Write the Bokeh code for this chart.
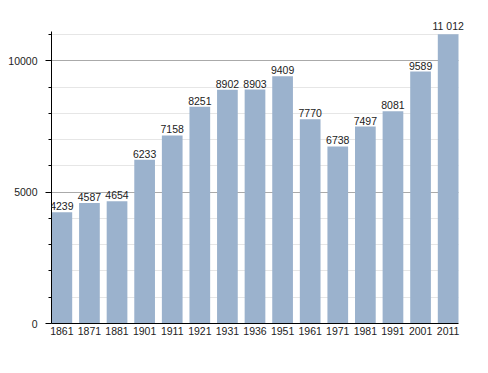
from bokeh.plotting import figure
from bokeh.models import ColumnDataSource, FixedTicker, Range1d, LabelSet
from bokeh.core.properties import value
from bokeh.embed import file_html
from bokeh.resources import INLINE

years = ["1861", "1871", "1881", "1901", "1911", "1921", "1931", "1936",
         "1951", "1961", "1971", "1981", "1991", "2001", "2011"]
population = [4239, 4587, 4654, 6233, 7158, 8251, 8902, 8903,
              9409, 7770, 6738, 7497, 8081, 9589, 11012]
labels = ["4239", "4587", "4654", "6233", "7158", "8251", "8902", "8903",
          "9409", "7770", "6738", "7497", "8081", "9589", "11 012"]
y_major = [0, 5000, 10000]
y_minor = [1000, 2000, 3000, 4000, 6000, 7000, 8000, 9000, 11000]

FONT = "Liberation Sans"
n = len(years)
idx = list(range(n))
BW = 0.75
half = BW / 2

src = ColumnDataSource(dict(x=idx, y=population, lab=labels))

p = figure(x_range=Range1d(-half, n - 1 + half + 0.435),
           y_range=Range1d(0, 11800),
           frame_width=419, frame_height=310,
           min_border_left=51, min_border_right=8,
           min_border_top=13, min_border_bottom=30,
           output_backend="svg", toolbar_location=None)
p.outline_line_color = None
p.background_fill_color = "white"

p.vbar(x="x", top="y", width=BW, source=src, fill_color="#9bb2cd",
       line_color=None)
p.add_layout(LabelSet(x="x", y="y", text="lab", source=src,
                      text_align="center", text_baseline="bottom",
                      y_offset=2, text_font=value(FONT),
                      text_font_size=value("10.5px"), text_color="#222222"))

p.xgrid.grid_line_color = None
p.ygrid.ticker = FixedTicker(ticks=y_major, minor_ticks=y_minor)
p.ygrid.grid_line_color = "#aaaaaa"
p.ygrid.minor_grid_line_color = "#e6e6e6"
p.ygrid.cross_bounds = (-half, n - 1 + half)

p.yaxis.bounds = (0, 11100)
p.yaxis.ticker = FixedTicker(ticks=y_major, minor_ticks=y_minor)
p.yaxis.major_tick_out = 6
p.yaxis.major_tick_in = 0
p.yaxis.minor_tick_out = 3
p.yaxis.minor_tick_in = 0
p.yaxis.major_label_standoff = 8
p.yaxis.axis_line_color = "black"
p.yaxis.major_tick_line_color = "black"
p.yaxis.minor_tick_line_color = "black"
p.yaxis.major_label_text_font = FONT
p.yaxis.major_label_text_font_size = "10.5px"
p.yaxis.major_label_text_color = "#222222"

p.xaxis.bounds = (-half, n - 1 + half)
p.xaxis.ticker = FixedTicker(ticks=idx)
p.xaxis.major_label_overrides = {i: y for i, y in zip(idx, years)}
p.xaxis.major_tick_out = 0
p.xaxis.major_tick_in = 0
p.xaxis.major_label_standoff = 3
p.xaxis.axis_line_color = "black"
p.xaxis.major_label_text_font = FONT
p.xaxis.major_label_text_font_size = "10.5px"
p.xaxis.major_label_text_color = "#222222"

open("out.html", "w").write(file_html(p, INLINE))
